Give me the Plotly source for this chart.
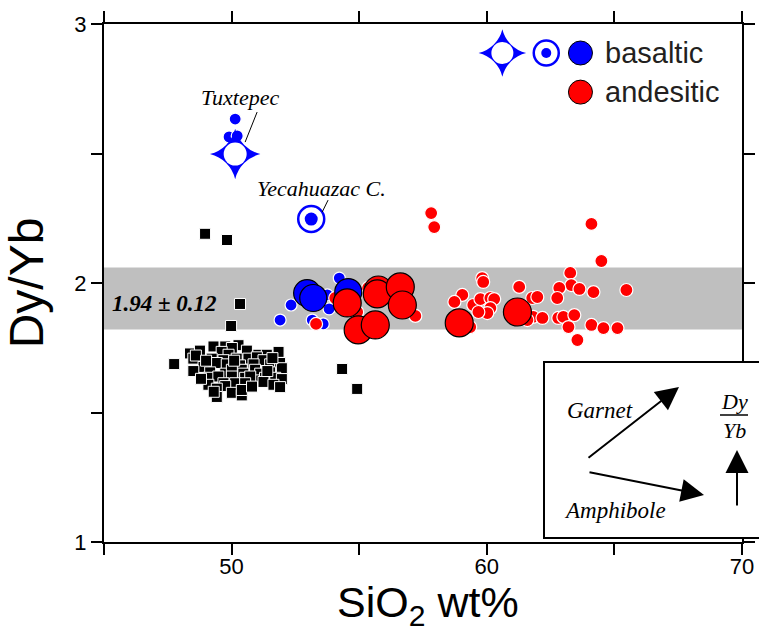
import plotly.graph_objects as go

# ---------------- data ----------------
sq_x = [48.96, 49.82, 50.33, 49.98, 47.75, 54.33, 54.92,
        49.29, 49.75, 50.27, 50.01, 48.37, 48.76, 49.61, 49.88, 50.60, 51.05, 51.84, 51.38,
        48.50, 49.22, 49.68, 50.20, 50.66, 50.99, 51.25, 48.90, 49.42, 49.81, 50.33, 50.86,
        51.51, 51.90, 51.97, 48.50, 49.16, 49.75, 50.40, 50.92, 51.12, 51.51, 50.46, 50.01,
        49.09, 49.48, 50.01, 50.53, 50.99, 51.31, 51.71, 51.97, 50.73, 49.09, 49.68, 50.14,
        50.53, 51.25, 51.64, 51.90, 49.75, 49.42, 50.01, 50.40, 50.40, 49.42,
        48.60, 49.00, 50.10, 51.60, 50.80, 49.30, 48.80, 51.40]
sq_y = [2.190, 2.166, 1.919, 1.834, 1.687, 1.668, 1.591,
        1.755, 1.755, 1.760, 1.749, 1.728, 1.739, 1.734, 1.723, 1.739, 1.723, 1.734, 1.723,
        1.708, 1.708, 1.702, 1.708, 1.708, 1.713, 1.702, 1.676, 1.691, 1.686, 1.682, 1.686,
        1.686, 1.691, 1.671, 1.660, 1.655, 1.650, 1.665, 1.665, 1.650, 1.655, 1.650, 1.665,
        1.634, 1.639, 1.639, 1.634, 1.624, 1.634, 1.634, 1.629, 1.639, 1.607, 1.613, 1.613,
        1.613, 1.618, 1.607, 1.598, 1.602, 1.592, 1.576, 1.566, 1.587, 1.560,
        1.720, 1.700, 1.700, 1.710, 1.600, 1.580, 1.630, 1.660]

bas_small_x = [50.14, 49.90, 50.22, 51.90, 52.33, 54.22, 53.82, 53.16, 53.59, 53.75]
bas_small_y = [2.633, 2.564, 2.568, 1.857, 1.915, 2.019, 1.900, 1.857, 1.842, 1.954]

and_small_x = [57.82, 57.94, 64.10, 64.49, 59.82, 59.86, 61.27, 63.27, 63.31, 63.63, 62.84,
               62.76, 64.18, 65.47, 59.04, 58.73, 59.47, 59.75, 60.14, 60.29, 60.14, 60.02,
               59.67, 61.78, 61.98, 61.82, 62.18, 61.59, 62.80, 63.00, 63.43, 63.20, 64.10,
               64.57, 65.12, 63.55, 59.35, 59.16, 57.20, 53.31, 54.92, 54.06, 55.35]
and_small_y = [2.270, 2.216, 2.228, 2.085, 2.019, 2.004, 1.985, 2.039, 1.992, 1.977, 1.981,
               1.942, 1.965, 1.973, 1.954, 1.927, 1.915, 1.938, 1.942, 1.938, 1.903, 1.884,
               1.888, 1.942, 1.946, 1.869, 1.865, 1.857, 1.865, 1.869, 1.876, 1.830, 1.838,
               1.826, 1.826, 1.780, 1.830, 1.849, 1.873, 1.842, 1.888, 1.942, 1.981]

bas_big_x = [52.96, 53.20, 54.57]
bas_big_y = [1.961, 1.942, 1.965]

and_big_x = [54.53, 54.96, 55.63, 55.75, 55.71, 56.61, 56.69, 58.92, 61.20]
and_big_y = [1.923, 1.819, 1.838, 1.973, 1.958, 1.985, 1.915, 1.846, 1.888]

tux_x, tux_y = [50.14], [2.498]          # Tuxtepec
yec_x, yec_y = [53.12], [2.247]          # Yecahuazac C.

band_mean, band_sd = 1.94, 0.12

x_ticks = [45, 50, 55, 60, 65, 70]
x_labels = ["", "50", "", "60", "", "70"]
y_ticks = [1, 1.5, 2, 2.5, 3]
y_labels = ["1", "", "2", "", "3"]

BLUE = "#0000ff"
RED = "#ff0000"
SANS = "Liberation Sans, Arial, sans-serif"
SERIF = "Liberation Serif, Times New Roman, serif"

fig = go.Figure()

def sc(x, y, **kw):
    fig.add_trace(go.Scatter(x=x, y=y, mode="markers", showlegend=False,
                             hoverinfo="skip", cliponaxis=False, **kw))

sc(sq_x, sq_y, marker=dict(symbol="square", size=11, color="black",
                           line=dict(color="white", width=1)))
sc(bas_small_x, bas_small_y, marker=dict(size=12, color=BLUE, line=dict(color="white", width=1.2)))
sc(and_small_x, and_small_y, marker=dict(size=13, color=RED, line=dict(color="white", width=1.2)))
sc(bas_big_x, bas_big_y, marker=dict(size=27, color=BLUE, line=dict(color="black", width=1.2)))
sc(and_big_x, and_big_y, marker=dict(size=28, color=RED, line=dict(color="black", width=1.2)))
# Tuxtepec star
sc(tux_x, tux_y, marker=dict(symbol="star-diamond", size=36, color=BLUE, line=dict(width=0)))
sc(tux_x, tux_y, marker=dict(symbol="circle", size=23, color="white", line=dict(width=0)))
# Yecahuazac bullseye
sc(yec_x, yec_y, marker=dict(symbol="circle-open", size=26, color=BLUE, line=dict(color=BLUE, width=2.5)))
sc(yec_x, yec_y, marker=dict(symbol="circle", size=13, color=BLUE, line=dict(width=0)))

# legend key (layout positions)
LEG_Y1, LEG_Y2 = 2.888, 2.737
sc([60.61], [LEG_Y1], marker=dict(symbol="star-diamond", size=34, color=BLUE, line=dict(width=0)))
sc([60.61], [LEG_Y1], marker=dict(symbol="circle", size=22, color="white", line=dict(width=0)))
sc([62.33], [LEG_Y1], marker=dict(symbol="circle-open", size=25, color=BLUE, line=dict(color=BLUE, width=2.5)))
sc([62.33], [LEG_Y1], marker=dict(symbol="circle", size=10, color=BLUE, line=dict(width=0)))
sc([63.67], [LEG_Y1], marker=dict(size=24, color=BLUE, line=dict(color="black", width=1)))
sc([63.67], [LEG_Y2], marker=dict(size=24, color=RED, line=dict(color="black", width=1)))

def px2paper(px, py):
    return (px - 104) / 638.0, (542 - py) / 518.0

shapes = [
    dict(type="rect", xref="paper", yref="y", x0=0, x1=1,
         y0=band_mean - band_sd, y1=band_mean + band_sd,
         fillcolor="#bfbfbf", line=dict(width=0), layer="below"),
    dict(type="line", xref="x", yref="y", x0=51.0, y0=2.660, x1=50.53, y1=2.544,
         line=dict(color="black", width=1)),
    dict(type="line", xref="x", yref="y", x0=53.78, y0=2.320, x1=53.55, y1=2.274,
         line=dict(color="black", width=1)),
]
bx0, by0 = px2paper(544, 538)
bx1, by1 = px2paper(790, 362)
shapes.append(dict(type="rect", xref="paper", yref="paper", x0=bx0, x1=bx1, y0=by0, y1=by1,
                   fillcolor="white", line=dict(color="black", width=2), layer="above"))
fx0, fy = px2paper(720, 415)
fx1, _ = px2paper(748, 415)
shapes.append(dict(type="line", xref="paper", yref="paper", x0=fx0, x1=fx1, y0=fy, y1=fy,
                   line=dict(color="black", width=1.5), layer="above"))

ann = []
def txt(x, y, s, size, family=SERIF, xanchor="center", xref="x", yref="y", color="black",
        yanchor="middle"):
    ann.append(dict(x=x, y=y, xref=xref, yref=yref, text=s, showarrow=False,
                    xanchor=xanchor, yanchor=yanchor,
                    font=dict(family=family, size=size, color=color)))

txt(50.33, 2.718, "<i>Tuxtepec</i>", 22)
txt(50.92, 2.363, "<i>Yecahuazac C.</i>", 22, xanchor="left")
txt(45.25, 1.919, "<b><i>1.94 ± 0.12</i></b>", 23, xanchor="left")
txt(64.57, LEG_Y1, "basaltic", 29, family=SANS, xanchor="left", color="#231f20")
txt(64.57, LEG_Y2, "andesitic", 29, family=SANS, xanchor="left", color="#231f20")

gx, gy = px2paper(600, 410)
txt(gx, gy, "<i>Garnet</i>", 23, xref="paper", yref="paper")
ax_, ay_ = px2paper(615, 510)
txt(ax_, ay_, "<i>Amphibole</i>", 23, xref="paper", yref="paper")
dx, dy = px2paper(734, 401)
txt(dx, dy, "<i>Dy</i>", 22, xref="paper", yref="paper")
yx, yy = px2paper(734, 430)
txt(yx, yy, "<i>Yb</i>", 22, xref="paper", yref="paper")

# x-axis title placed as annotation
tx_, ty_ = px2paper(428, 634)
txt(tx_, ty_, "SiO<sub>2</sub> wt%", 43, family=SANS, xref="paper", yref="paper",
    yanchor="bottom")

def arrow(tip, tail):
    tx, ty = px2paper(*tip)
    ann.append(dict(x=tx, y=ty, xref="paper", yref="paper", text="", showarrow=True,
                    ax=tail[0] - tip[0], ay=tail[1] - tip[1], axref="pixel", ayref="pixel",
                    arrowhead=2, arrowsize=2.3, arrowwidth=2, arrowcolor="black"))

arrow((679, 387), (587, 459))
arrow((704, 495), (588, 472))
arrow((737, 450), (737, 507))

axis_common = dict(showline=True, linecolor="black", linewidth=2, mirror="ticks",
                   ticks="outside", ticklen=11, tickwidth=2, tickcolor="black",
                   showgrid=False, zeroline=False,
                   tickfont=dict(family=SANS, size=22, color="black"))

fig.update_layout(
    width=759, height=632,
    margin=dict(l=104, r=17, t=24, b=90, autoexpand=False),
    paper_bgcolor="white", plot_bgcolor="white",
    shapes=shapes, annotations=ann,
    xaxis=dict(range=[45, 70], tickmode="array", tickvals=x_ticks, ticktext=x_labels,
               ticklabelstandoff=-7,
               automargin=False, **axis_common),
    yaxis=dict(range=[1, 3], tickmode="array", tickvals=y_ticks, ticktext=y_labels,
               title=dict(text="Dy/Yb", font=dict(family=SANS, size=48, color="black"),
                          standoff=18),
               automargin=False, **axis_common),
    showlegend=False,
)

fig.write_html("out.html")
